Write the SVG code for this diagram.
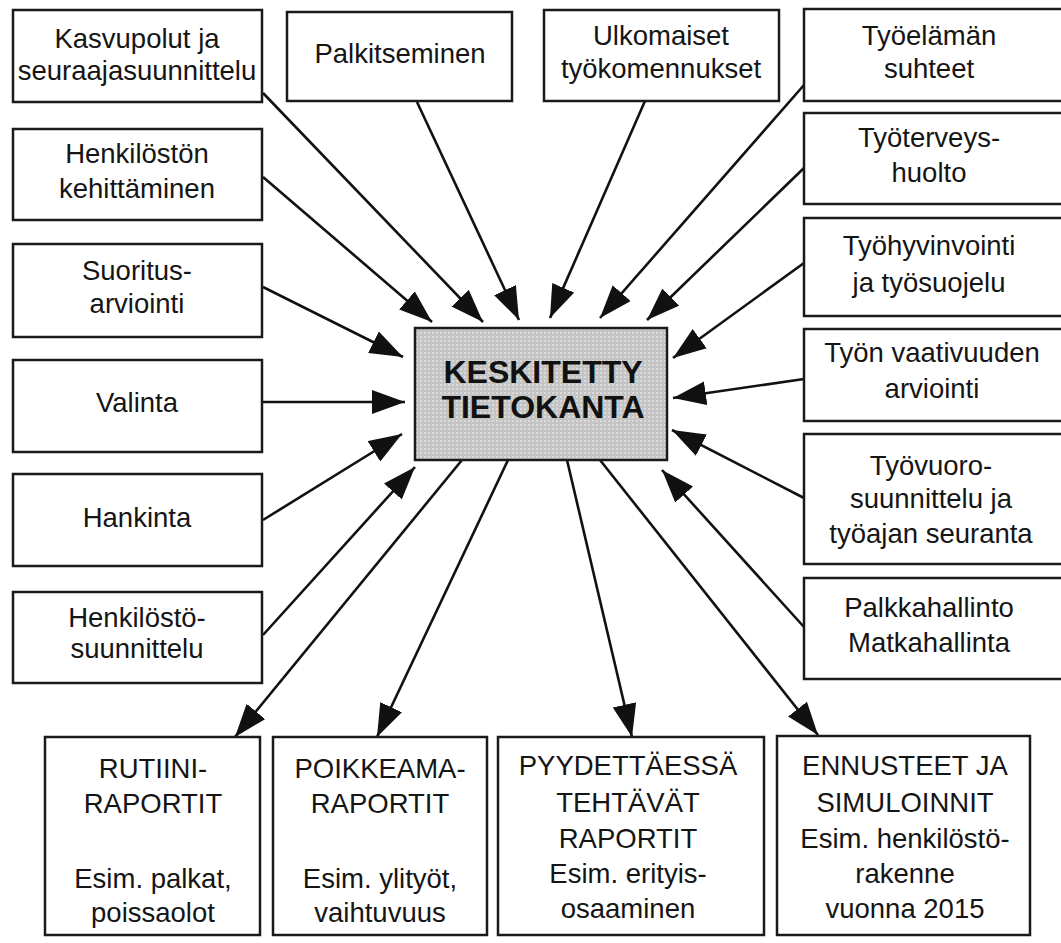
<svg xmlns="http://www.w3.org/2000/svg" width="1061" height="943" viewBox="0 0 1061 943">
<style>
.box{fill:#fff;stroke:#1a1a1a;stroke-width:2.5}
.t{font-family:"Liberation Sans",Arial,sans-serif;font-size:27.5px;fill:#151515;text-anchor:middle}
.c{font-family:"Liberation Sans",Arial,sans-serif;font-size:32px;font-weight:bold;fill:#111;text-anchor:middle}
.ln{stroke:#111;stroke-width:2.6;fill:none;marker-end:url(#ah)}
</style>
<defs>
<marker id="ah" markerUnits="userSpaceOnUse" markerWidth="36" markerHeight="26" refX="33" refY="12" orient="auto">
<path d="M0,0 L33,12 L0,24 z" fill="#111"/>
</marker>
<pattern id="dots" width="4" height="4" patternUnits="userSpaceOnUse">
<rect width="4" height="4" fill="#c4c4c4"/>
<rect width="2" height="2" fill="#dadada"/>
</pattern>
</defs>
<rect width="1061" height="943" fill="#fff"/>

<g id="connectors">
<line class="ln" x1="263" y1="93" x2="483" y2="322"/>
<line class="ln" x1="263" y1="177" x2="432" y2="322"/>
<line class="ln" x1="417" y1="102" x2="519" y2="320"/>
<line class="ln" x1="263" y1="287" x2="403" y2="357"/>
<line class="ln" x1="263" y1="402" x2="405" y2="402"/>
<line class="ln" x1="263" y1="520" x2="402" y2="434"/>
<line class="ln" x1="263" y1="635" x2="415" y2="467"/>
<line class="ln" x1="645" y1="101" x2="550" y2="318"/>
<line class="ln" x1="804" y1="85" x2="600" y2="318"/>
<line class="ln" x1="804" y1="168" x2="647" y2="320"/>
<line class="ln" x1="804" y1="263" x2="673" y2="358"/>
<line class="ln" x1="804" y1="379" x2="673" y2="398"/>
<line class="ln" x1="804" y1="498" x2="672" y2="430"/>
<line class="ln" x1="804" y1="627" x2="662" y2="470"/>
<line class="ln" x1="462" y1="460" x2="235" y2="737"/>
<line class="ln" x1="508" y1="460" x2="377" y2="737"/>
<line class="ln" x1="567" y1="460" x2="632" y2="737"/>
<line class="ln" x1="600" y1="460" x2="818" y2="735"/>
</g>

<g id="center">
<rect x="415" y="328" width="252" height="132" fill="url(#dots)" stroke="#1a1a1a" stroke-width="2.5"/>
<text class="c" x="543" y="383">KESKITETTY</text>
<text class="c" x="543" y="418">TIETOKANTA</text>
</g>

<g id="kasvupolut">
<rect class="box" x="13" y="10" width="249" height="92"/>
<text class="t" x="137" y="48">Kasvupolut ja</text>
<text class="t" x="137" y="80">seuraajasuunnittelu</text>
</g>
<g id="palkitseminen">
<rect class="box" x="287" y="12" width="225" height="89"/>
<text class="t" x="400" y="63">Palkitseminen</text>
</g>
<g id="ulkomaiset">
<rect class="box" x="544" y="10" width="235" height="91"/>
<text class="t" x="661" y="45">Ulkomaiset</text>
<text class="t" x="661" y="78">työkomennukset</text>
</g>
<g id="henkiloston-kehittaminen">
<rect class="box" x="13" y="129" width="249" height="91"/>
<text class="t" x="137" y="163">Henkilöstön</text>
<text class="t" x="137" y="198">kehittäminen</text>
</g>
<g id="suoritusarviointi">
<rect class="box" x="13" y="244" width="249" height="93"/>
<text class="t" x="137" y="280">Suoritus-</text>
<text class="t" x="137" y="313">arviointi</text>
</g>
<g id="valinta">
<rect class="box" x="13" y="360" width="249" height="92"/>
<text class="t" x="137" y="412">Valinta</text>
</g>
<g id="hankinta">
<rect class="box" x="13" y="474" width="249" height="92"/>
<text class="t" x="137" y="527">Hankinta</text>
</g>
<g id="henkilostosuunnittelu">
<rect class="box" x="13" y="592" width="249" height="91"/>
<text class="t" x="137" y="627">Henkilöstö-</text>
<text class="t" x="137" y="658">suunnittelu</text>
</g>

<g id="tyoelaman-suhteet">
<rect class="box" x="804" y="9" width="262" height="92"/>
<text class="t" x="929" y="45">Työelämän</text>
<text class="t" x="929" y="78">suhteet</text>
</g>
<g id="tyoterveyshuolto">
<rect class="box" x="804" y="113" width="262" height="91"/>
<text class="t" x="929" y="147">Työterveys-</text>
<text class="t" x="929" y="182">huolto</text>
</g>
<g id="tyohyvinvointi">
<rect class="box" x="804" y="218" width="262" height="98"/>
<text class="t" x="929" y="255">Työhyvinvointi</text>
<text class="t" x="929" y="292">ja työsuojelu</text>
</g>
<g id="tyon-vaativuus">
<rect class="box" x="804" y="329" width="262" height="92"/>
<text class="t" x="932" y="362">Työn vaativuuden</text>
<text class="t" x="932" y="398">arviointi</text>
</g>
<g id="tyovuorosuunnittelu">
<rect class="box" x="804" y="434" width="262" height="130"/>
<text class="t" x="931" y="475">Työvuoro-</text>
<text class="t" x="931" y="508">suunnittelu ja</text>
<text class="t" x="931" y="543">työajan seuranta</text>
</g>
<g id="palkkahallinto">
<rect class="box" x="804" y="578" width="262" height="101"/>
<text class="t" x="929" y="617">Palkkahallinto</text>
<text class="t" x="929" y="652">Matkahallinta</text>
</g>

<g id="rutiiniraportit">
<rect class="box" x="45" y="737" width="215" height="198"/>
<text class="t" x="153" y="778">RUTIINI-</text>
<text class="t" x="153" y="813">RAPORTIT</text>
<text class="t" x="153" y="888">Esim. palkat,</text>
<text class="t" x="153" y="922">poissaolot</text>
</g>
<g id="poikkeamaraportit">
<rect class="box" x="273" y="737" width="214" height="198"/>
<text class="t" x="380" y="778">POIKKEAMA-</text>
<text class="t" x="380" y="813">RAPORTIT</text>
<text class="t" x="380" y="888">Esim. ylityöt,</text>
<text class="t" x="380" y="922">vaihtuvuus</text>
</g>
<g id="pyydettaessa">
<rect class="box" x="498" y="737" width="266" height="198"/>
<text class="t" x="628" y="775">PYYDETTÄESSÄ</text>
<text class="t" x="628" y="812">TEHTÄVÄT</text>
<text class="t" x="628" y="848">RAPORTIT</text>
<text class="t" x="628" y="883">Esim. erityis-</text>
<text class="t" x="628" y="918">osaaminen</text>
</g>
<g id="ennusteet">
<rect class="box" x="777" y="736" width="253" height="199"/>
<text class="t" x="905" y="775">ENNUSTEET JA</text>
<text class="t" x="905" y="812">SIMULOINNIT</text>
<text class="t" x="905" y="848">Esim. henkilöstö-</text>
<text class="t" x="905" y="883">rakenne</text>
<text class="t" x="905" y="918">vuonna 2015</text>
</g>
</svg>
